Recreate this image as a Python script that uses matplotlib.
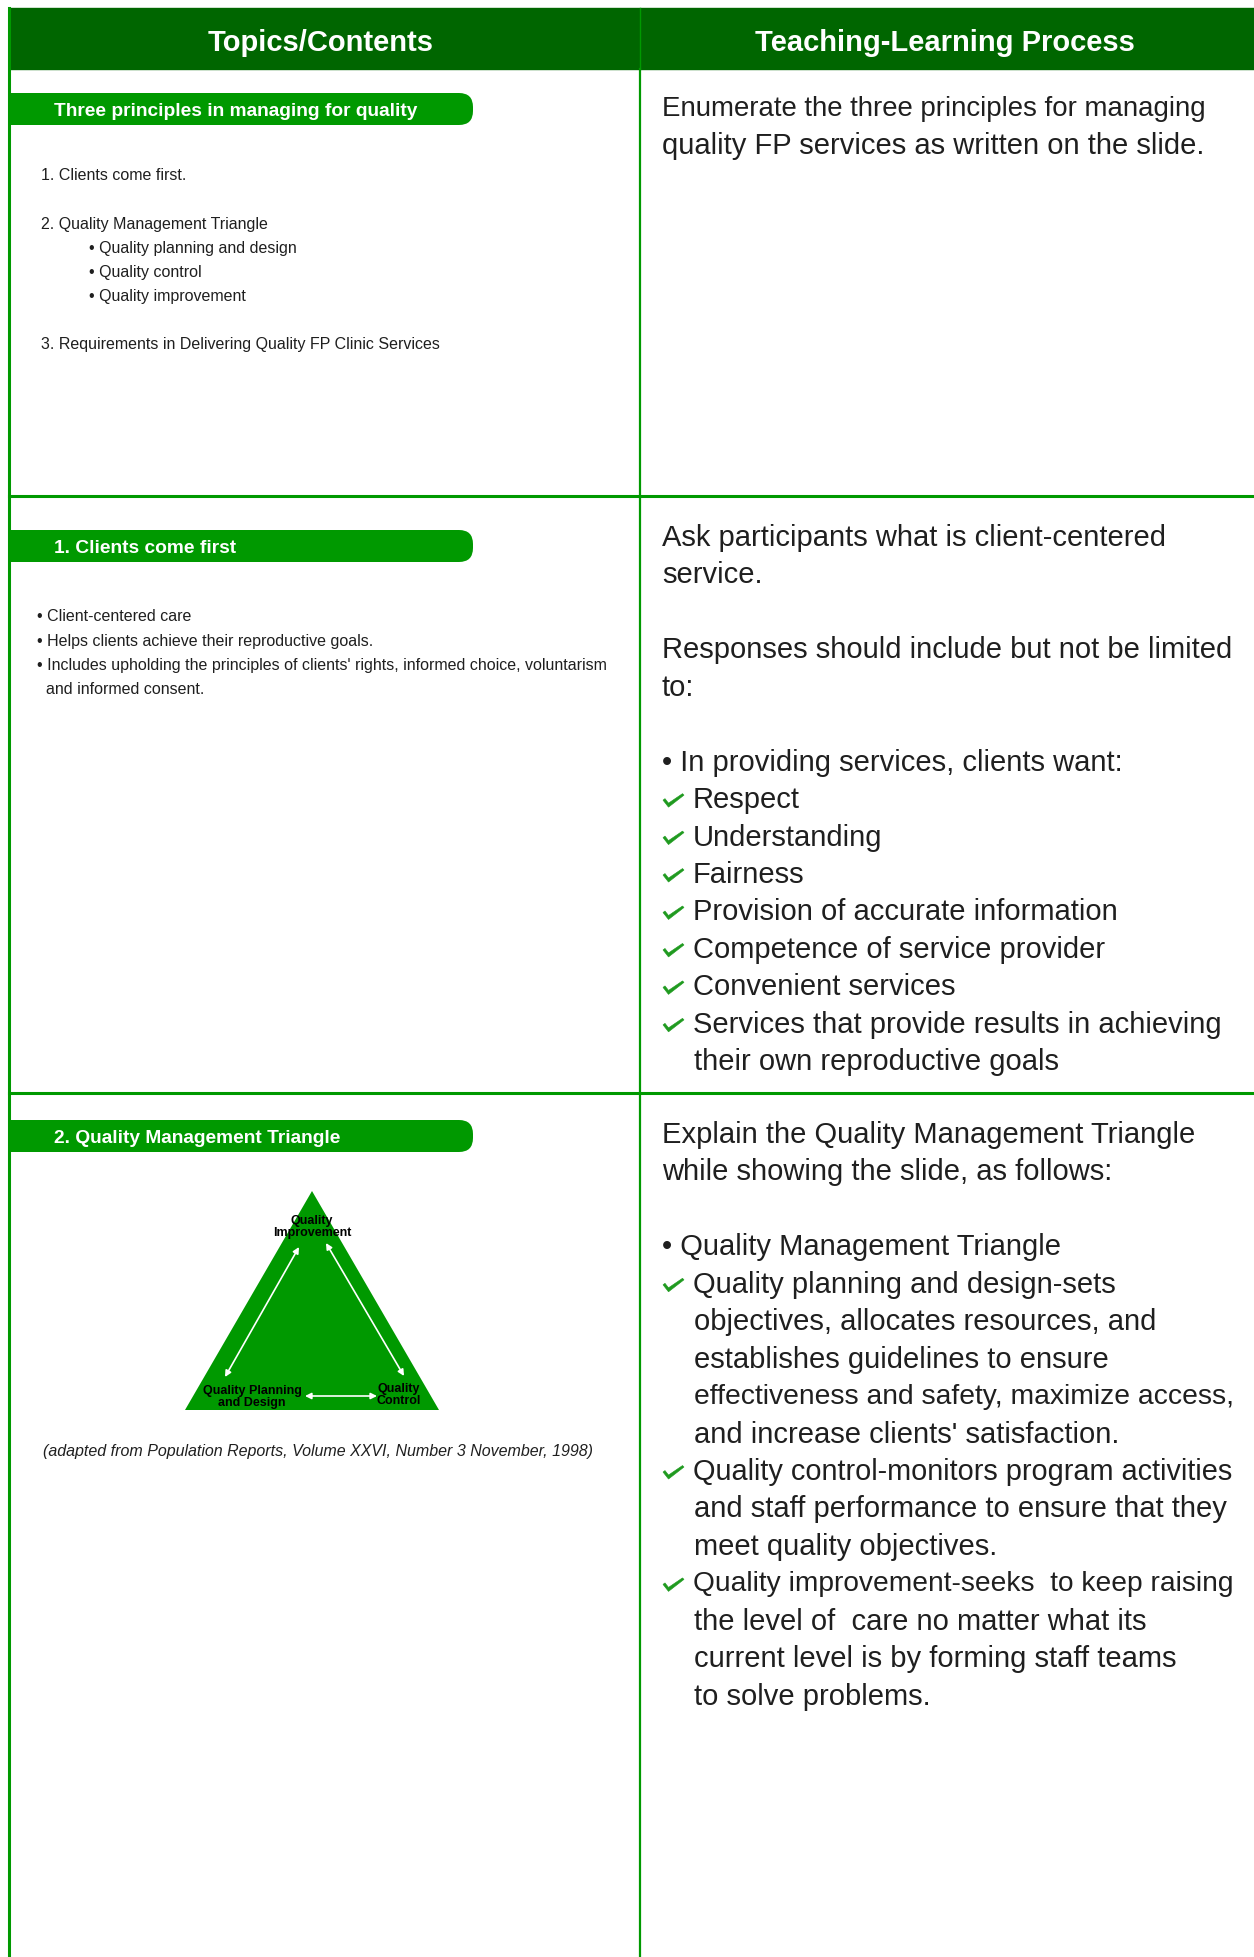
import matplotlib
import matplotlib.pyplot as plt
from matplotlib.patches import Rectangle, FancyBboxPatch, Polygon

matplotlib.use('agg')
plt.rcParams['font.family'] = ['Liberation Sans', 'DejaVu Sans']

DARK = '#006600'
GREEN = '#009900'
TICK = '#1f9a1f'
INK = '#1f1f1f'

# --- page content ---
headers = ['Topics/Contents', 'Teaching-Learning Process']
pills = ['Three principles in managing for quality',
         '1. Clients come first',
         '2. Quality Management Triangle']

topics_1 = ['1. Clients come first.',
            '',
            '2. Quality Management Triangle',
            '\t• Quality planning and design',
            '\t• Quality control',
            '\t• Quality improvement',
            '',
            '3. Requirements in Delivering Quality FP Clinic Services']

topics_2 = ['• Client-centered care',
            '• Helps clients achieve their reproductive goals.',
            "• Includes upholding the principles of clients' rights, informed choice, voluntarism",
            '\tand informed consent.']

triangle_labels = ['Quality\nImprovement', 'Quality Planning\nand Design', 'Quality\nControl']
caption = '(adapted from Population Reports, Volume XXVI, Number 3 November, 1998)'

process_1 = ['Enumerate the three principles for managing',
             'quality FP services as written on the slide.']

process_2 = ['Ask participants what is client-centered',
             'service.',
             '',
             'Responses should include but not be limited',
             'to:',
             '',
             '• In providing services, clients want:',
             '✓ Respect',
             '✓ Understanding',
             '✓ Fairness',
             '✓ Provision of accurate information',
             '✓ Competence of service provider',
             '✓ Convenient services',
             '✓ Services that provide results in achieving',
             '\ttheir own reproductive goals']

process_3 = ['Explain the Quality Management Triangle',
             'while showing the slide, as follows:',
             '',
             '• Quality Management Triangle',
             '✓ Quality planning and design-sets',
             '\tobjectives, allocates resources, and',
             '\testablishes guidelines to ensure',
             '\teffectiveness and safety, maximize access,',
             "\tand increase clients' satisfaction.",
             '✓ Quality control-monitors program activities',
             '\tand staff performance to ensure that they',
             '\tmeet quality objectives.',
             '✓ Quality improvement-seeks  to keep raising',
             '\tthe level of  care no matter what its',
             '\tcurrent level is by forming staff teams',
             '\tto solve problems.']

W, H = 1254, 1958
fig = plt.figure(figsize=(W / 100, H / 100), dpi=100)
ax = fig.add_axes([0, 0, 1, 1])
ax.set_xlim(0, W)
ax.set_ylim(H, 0)
ax.axis('off')
renderer = fig.canvas.get_renderer()

# table frame
LEFT, MID, TOP, HEAD_B = 9, 640, 9, 70
row_lines = [497, 1094]
ax.add_patch(Rectangle((LEFT, TOP), W - LEFT, HEAD_B - TOP, color=DARK, zorder=1))
ax.plot([MID, MID], [TOP, HEAD_B], color=GREEN, lw=1, zorder=2)
ax.plot([LEFT, LEFT], [TOP, H], color=GREEN, lw=2.2, zorder=2)
ax.plot([MID, MID], [HEAD_B, H], color=GREEN, lw=1.6, zorder=2)
for y in row_lines:
    ax.plot([LEFT, W], [y, y], color=GREEN, lw=2.2, zorder=2)

for cx, h in zip([321, 945], headers):
    ax.text(cx, 43, h, color='white', fontsize=21, fontweight='bold',
            ha='center', va='center', zorder=3)

# green title pills
for yc, title in zip([110, 547, 1137], pills):
    ax.add_patch(FancyBboxPatch((LEFT, yc - 16), 464, 32,
                                boxstyle='round,pad=0,rounding_size=14',
                                fc=GREEN, ec='none', zorder=2))
    ax.add_patch(Rectangle((LEFT, yc - 16), 60, 32, fc=GREEN, ec='none', zorder=2))
    ax.text(54, yc + 2, title, color='white', fontsize=13.8, fontweight='bold',
            ha='left', va='center', zorder=3)


def fit_text(x, y, s, size, right):
    # shrink a line only when it would run past the cell's right margin
    t = ax.text(x, y, s, color=INK, fontsize=size, ha='left', va='center')
    x1 = t.get_window_extent(renderer=renderer).x1
    if x1 > right:
        t.set_fontsize(size * (right - x) / (x1 - x))
    return t


def draw_left(lines, x, indent, y0, step, size):
    for i, line in enumerate(lines):
        if not line:
            continue
        xx = indent if line.startswith('\t') else x
        ax.text(xx, y0 + i * step, line.lstrip('\t'), color=INK, fontsize=size,
                ha='left', va='center')


def draw_check(x, y):
    pts = [(0, 1), (2, -0.5), (5.5, 4), (19.5, -5.5), (21, -4), (5.5, 8)]
    ax.add_patch(Polygon([(x + dx, y + dy) for dx, dy in pts], closed=True,
                         fc=TICK, ec=TICK, lw=0.4))


def draw_right(lines, y0, right=1232, step=37.45, size=21):
    for i, line in enumerate(lines):
        if not line:
            continue
        y = y0 + i * step
        if line.startswith('✓ '):
            draw_check(663, y)
            fit_text(693, y, line[2:], size, right)
        elif line.startswith('\t'):
            fit_text(694, y, line[1:], size, right)
        else:
            fit_text(662, y, line, size, right)


draw_left(topics_1, 41, 89, 176, 24, 11.5)
draw_left(topics_2, 37, 46, 617, 24.2, 11.55)

draw_right(process_1, 109, right=1207)
draw_right(process_2, 538)
draw_right(process_3, 1135)

# quality management triangle
apex, base_l, base_r = (312, 1192), (185, 1411), (439, 1411)
ax.add_patch(Polygon([apex, base_l, base_r], closed=True, fc=GREEN, ec='none', zorder=2))
for (x, y), lab in zip([(312, 1227), (252, 1397), (399, 1395)], triangle_labels):
    ax.text(x, y, lab, fontsize=9, fontweight='bold', color='black',
            ha='center', va='center', linespacing=0.95, zorder=4)
arrows = [((299, 1248), (225, 1378)),
          ((326, 1244), (404, 1377)),
          ((305, 1397), (377, 1397))]
for a, b in arrows:
    ax.annotate('', xy=b, xytext=a,
                arrowprops=dict(arrowstyle='<|-|>', color='white', lw=1.2,
                                mutation_scale=9, shrinkA=0, shrinkB=0), zorder=3)

ax.text(318, 1452, caption, fontsize=11.5, style='italic', color=INK,
        ha='center', va='center')

fig.savefig('out.png', dpi=100)
